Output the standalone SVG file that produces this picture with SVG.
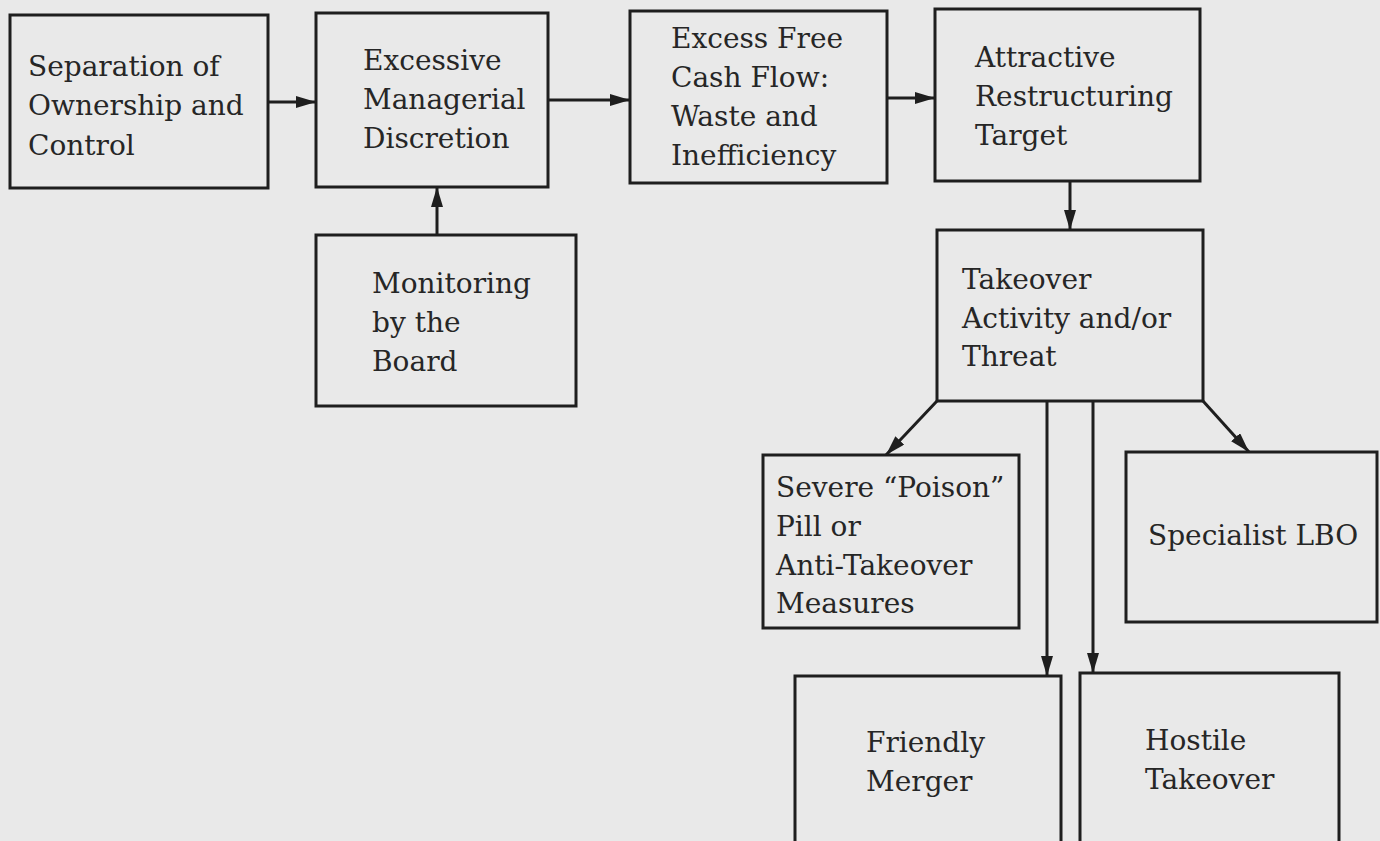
<svg xmlns="http://www.w3.org/2000/svg" width="1380" height="841" viewBox="0 0 1380 841">
<style>
.box{fill:none;stroke:#1e1e1e;stroke-width:3}
.t{font-family:"DejaVu Serif","Liberation Serif",serif;font-size:28px;fill:#262626}
.c{stroke:#1e1e1e;stroke-width:3;fill:none}
</style>
<defs>
<marker id="ah" viewBox="0 0 20 12" refX="20" refY="6" markerWidth="20" markerHeight="12" markerUnits="userSpaceOnUse" orient="auto">
<path d="M0,0 L20,6 L0,12 Z" fill="#1e1e1e"/>
</marker>
</defs>
<rect width="1380" height="841" fill="#e9e9e9"/>
<g id="connectors">
<line class="c" x1="268" y1="102" x2="316" y2="102" marker-end="url(#ah)"/>
<line class="c" x1="548" y1="100" x2="630" y2="100" marker-end="url(#ah)"/>
<line class="c" x1="887" y1="98" x2="935" y2="98" marker-end="url(#ah)"/>
<line class="c" x1="437" y1="235" x2="437" y2="187" marker-end="url(#ah)"/>
<line class="c" x1="1070" y1="181" x2="1070" y2="230" marker-end="url(#ah)"/>
<line class="c" x1="937" y1="401" x2="886" y2="455" marker-end="url(#ah)"/>
<line class="c" x1="1203" y1="401" x2="1249" y2="452" marker-end="url(#ah)"/>
<line class="c" x1="1047" y1="401" x2="1047" y2="676" marker-end="url(#ah)"/>
<line class="c" x1="1093" y1="401" x2="1093" y2="673" marker-end="url(#ah)"/>
</g>
<g id="n1"><rect class="box" x="10" y="15" width="258" height="173"/>
<text class="t" x="28" y="76">Separation of</text><text class="t" x="28" y="115">Ownership and</text><text class="t" x="28" y="155">Control</text></g>
<g id="n2"><rect class="box" x="316" y="13" width="232" height="174"/>
<text class="t" x="363" y="70">Excessive</text><text class="t" x="363" y="109">Managerial</text><text class="t" x="363" y="148">Discretion</text></g>
<g id="n3"><rect class="box" x="630" y="11" width="257" height="172"/>
<text class="t" x="671" y="48">Excess Free</text><text class="t" x="671" y="87">Cash Flow:</text><text class="t" x="671" y="126">Waste and</text><text class="t" x="671" y="165">Inefficiency</text></g>
<g id="n4"><rect class="box" x="935" y="9" width="265" height="172"/>
<text class="t" x="975" y="67">Attractive</text><text class="t" x="975" y="106">Restructuring</text><text class="t" x="975" y="145">Target</text></g>
<g id="n5"><rect class="box" x="316" y="235" width="260" height="171"/>
<text class="t" x="372" y="293">Monitoring</text><text class="t" x="372" y="332">by the</text><text class="t" x="372" y="371">Board</text></g>
<g id="n6"><rect class="box" x="937" y="230" width="266" height="171"/>
<text class="t" x="962" y="289">Takeover</text><text class="t" x="962" y="328">Activity and/or</text><text class="t" x="962" y="366">Threat</text></g>
<g id="n7"><rect class="box" x="763" y="455" width="256" height="173"/>
<text class="t" x="776" y="497">Severe “Poison”</text><text class="t" x="776" y="536">Pill or</text><text class="t" x="776" y="575">Anti-Takeover</text><text class="t" x="776" y="613">Measures</text></g>
<g id="n8"><rect class="box" x="1126" y="452" width="251" height="170"/>
<text class="t" x="1148" y="545">Specialist LBO</text></g>
<g id="n9"><rect class="box" x="795" y="676" width="266" height="175"/>
<text class="t" x="866" y="752">Friendly</text><text class="t" x="866" y="791">Merger</text></g>
<g id="n10"><rect class="box" x="1080" y="673" width="259" height="178"/>
<text class="t" x="1145" y="750">Hostile</text><text class="t" x="1145" y="789">Takeover</text></g>
</svg>
